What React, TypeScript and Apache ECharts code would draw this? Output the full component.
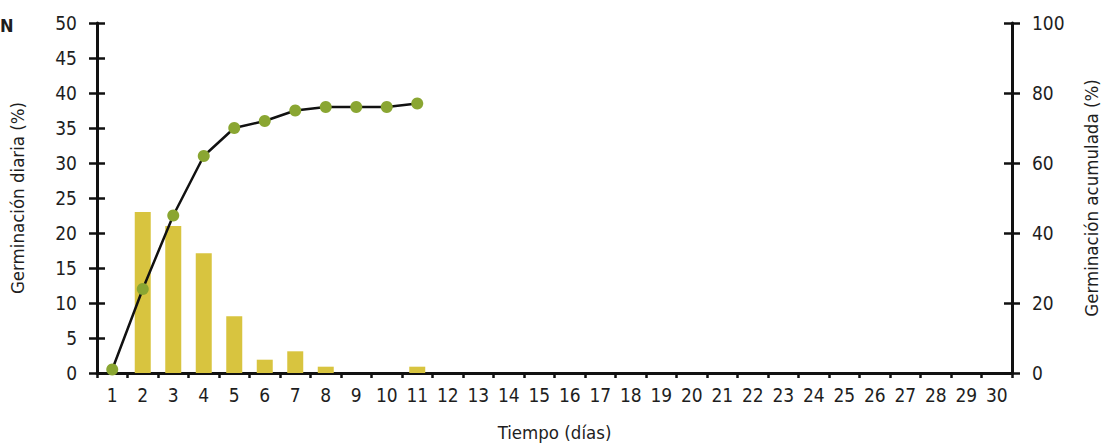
import React, { useEffect, useRef } from "react";
import * as echarts from "echarts";

const days: string[] = Array.from({ length: 30 }, (_, i) => String(i + 1));
const dailyGermination: (number | null)[] = [0, 23, 21, 17.1, 8.1, 1.9, 3.1, 0.9, 0, 0, 0.9];
const cumulativeGermination: (number | null)[] = [1, 24, 45, 62, 70, 72, 75, 76, 76, 76, 77];
const leftTicks = { min: 0, max: 50, interval: 5 };
const rightTicks = { min: 0, max: 100, interval: 20 };

const FONT = "'DejaVu Sans Condensed', 'Liberation Sans Narrow', 'Roboto', sans-serif";
const TEXT = "#1e1e1e";

export default function App() {
  const ref = useRef<HTMLDivElement>(null);
  useEffect(() => {
    if (!ref.current) return;
    const chart = echarts.init(ref.current, undefined, { renderer: "svg" });
    const lineStyle = { color: "#111", width: 3 };
    chart.setOption({
      animation: false,
      backgroundColor: "#fff",
      textStyle: { fontFamily: FONT },
      grid: { left: 95, right: 84, top: 23, bottom: 68, containLabel: false },
      graphic: [
        {
          type: "text",
          left: 0,
          top: 16,
          style: { text: "N", font: `bold 18px ${FONT}`, fill: TEXT },
        },
      ],
      xAxis: {
        type: "category",
        data: days,
        boundaryGap: true,
        name: "Tiempo (días)",
        nameLocation: "middle",
        nameGap: 50,
        nameTextStyle: { fontSize: 18.5, color: TEXT, fontFamily: FONT },
        axisLine: { lineStyle },
        axisTick: { show: true, alignWithLabel: false, length: 5, lineStyle: { color: "#111", width: 2.5 } },
        axisLabel: { fontSize: 19, color: TEXT, margin: 12, interval: 0, fontFamily: FONT },
        splitLine: { show: false },
      },
      yAxis: [
        {
          type: "value",
          position: "left",
          ...leftTicks,
          name: "Germinación diaria (%)",
          nameLocation: "middle",
          nameGap: 70,
          nameRotate: 90,
          nameTextStyle: { fontSize: 18.5, color: TEXT, fontFamily: FONT },
          axisLine: { show: true, lineStyle },
          axisTick: { show: true, length: 8, lineStyle: { color: "#111", width: 2.5 } },
          axisLabel: { fontSize: 19, color: TEXT, margin: 20, fontFamily: FONT },
          splitLine: { show: false },
        },
        {
          type: "value",
          position: "right",
          ...rightTicks,
          name: "Germinación acumulada (%)",
          nameLocation: "middle",
          nameGap: 70,
          nameRotate: 90,
          nameTextStyle: { fontSize: 18.5, color: TEXT, fontFamily: FONT },
          axisLine: { show: true, lineStyle },
          axisTick: { show: true, length: 8, lineStyle: { color: "#111", width: 2.5 } },
          axisLabel: { fontSize: 19, color: TEXT, margin: 20, fontFamily: FONT },
          splitLine: { show: false },
        },
        {
          type: "value",
          position: "left",
          ...leftTicks,
          axisLine: { show: false },
          axisTick: { show: true, inside: true, length: 8, lineStyle: { color: "#111", width: 2.5 } },
          axisLabel: { show: false },
          splitLine: { show: false },
        },
        {
          type: "value",
          position: "right",
          ...rightTicks,
          axisLine: { show: false },
          axisTick: { show: true, inside: true, length: 8, lineStyle: { color: "#111", width: 2.5 } },
          axisLabel: { show: false },
          splitLine: { show: false },
        },
      ],
      series: [
        {
          type: "bar",
          yAxisIndex: 0,
          data: dailyGermination,
          barWidth: 16,
          itemStyle: { color: "#d8c43f" },
          z: 2,
        },
        {
          type: "line",
          yAxisIndex: 1,
          data: cumulativeGermination,
          symbol: "circle",
          symbolSize: 12,
          lineStyle: { color: "#111", width: 2.5 },
          itemStyle: { color: "#8aa632", borderWidth: 0 },
          z: 3,
        },
      ],
    });
    return () => chart.dispose();
  }, []);
  return <div ref={ref} style={{ width: 1109, height: 447, position: "absolute", left: 0, top: 0 }} />;
}
